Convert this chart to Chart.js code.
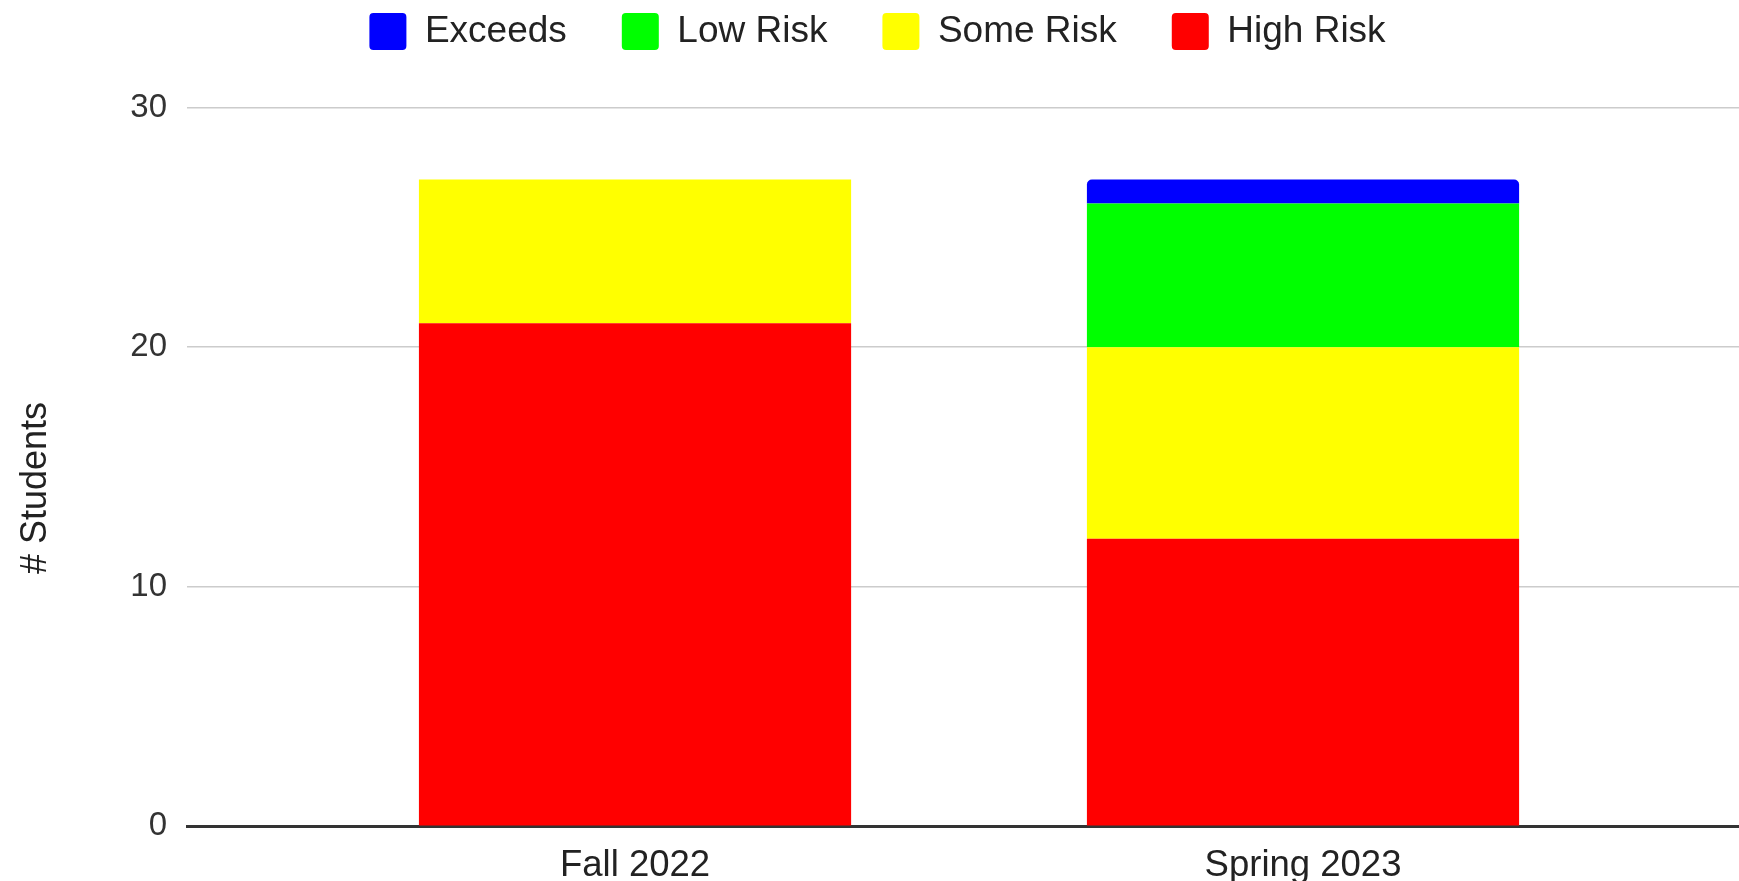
<!DOCTYPE html>
<html>
<head>
<meta charset="utf-8">
<title># Students by risk level</title>
<script src="https://cdn.jsdelivr.net/npm/chart.js@4/dist/chart.umd.min.js"></script>
<style>
  html, body { margin: 0; padding: 0; background: #ffffff; }
  #wrap { width: 1739px; height: 881px; position: relative; }
</style>
</head>
<body>
<div id="wrap"><canvas id="chart"></canvas></div>
<script>
// Terms on the horizontal axis
const categories = ['Fall 2022', 'Spring 2023'];

// Number of students in each band, per term (stacked bottom to top)
const highRisk = [21, 12];
const someRisk = [6, 8];
const lowRisk  = [0, 6];
const exceeds  = [0, 1];

// Value axis ticks
const yTickValues = [0, 10, 20, 30];

const FONT = "'Liberation Sans', Arial, sans-serif";

const toPoints = (values) => values.map((v, i) => ({ x: i, y: v }));

// Legend row: extra room below it and a small nudge to the right
const legendSpace = {
  id: 'legendSpace',
  beforeInit(chart) {
    const legend = chart.legend;
    const fit = legend.fit;
    legend.fit = function () {
      fit.call(this);
      this.height = 149.6;
    };
    const draw = legend.draw;
    legend.draw = function () {
      const ctx = this.ctx;
      ctx.save();
      ctx.translate(8, 0);
      draw.call(this);
      ctx.restore();
    };
  },
  // Axis title sits a little below the middle of the plot
  afterLayout(chart) {
    const y = chart.scales.y;
    if (y && !y._titleShifted) {
      const drawTitle = y.drawTitle;
      y.drawTitle = function () {
        const ctx = this.ctx;
        ctx.save();
        ctx.translate(0, 21);
        drawTitle.call(this);
        ctx.restore();
      };
      y._titleShifted = true;
    }
  }
};

new Chart(document.getElementById('chart'), {
  type: 'bar',
  data: {
    datasets: [
      { label: 'High Risk', data: toPoints(highRisk), backgroundColor: '#ff0000' },
      { label: 'Some Risk', data: toPoints(someRisk), backgroundColor: '#ffff00' },
      { label: 'Low Risk',  data: toPoints(lowRisk),  backgroundColor: '#00ff00' },
      { label: 'Exceeds',   data: toPoints(exceeds),  backgroundColor: '#0000ff',
        borderRadius: { topLeft: 5, topRight: 5, bottomLeft: 0, bottomRight: 0 } }
    ]
  },
  plugins: [legendSpace],
  options: {
    responsive: true,
    maintainAspectRatio: false,
    animation: false,
    barPercentage: 1,
    categoryPercentage: 0.647,
    layout: { padding: { top: -42, left: 0, right: 0, bottom: 0 } },
    plugins: {
      tooltip: { enabled: false },
      legend: {
        position: 'top',
        reverse: true,
        labels: {
          boxWidth: 37,
          boxHeight: 37,
          useBorderRadius: true,
          borderRadius: 4,
          padding: 55,
          color: '#222222',
          font: { family: FONT, size: 37 }
        }
      }
    },
    scales: {
      x: {
        type: 'linear',
        stacked: true,
        offset: false,
        min: -0.6707,
        max: 1.6527,
        afterBuildTicks: (scale) => {
          scale.ticks = categories.map((_, i) => ({ value: i }));
        },
        afterFit: (scale) => { scale.height = 54.7; },
        grid: { display: false, drawTicks: false },
        border: { display: true, color: '#333333', width: 3 },
        ticks: {
          padding: 18,
          color: '#222222',
          font: { family: FONT, size: 36.5 },
          callback: (value) => categories[value] ?? ''
        }
      },
      y: {
        stacked: true,
        min: 0,
        max: 30,
        afterBuildTicks: (scale) => {
          scale.ticks = yTickValues.map((v) => ({ value: v }));
        },
        afterFit: (scale) => { scale.width = 187; },
        grid: { color: '#cccccc', lineWidth: 1.5, drawTicks: false },
        border: { display: false },
        ticks: {
          padding: 20,
          color: '#333333',
          font: { family: FONT, size: 33 }
        },
        title: {
          display: true,
          text: '# Students',
          color: '#222222',
          font: { family: FONT, size: 36 },
          padding: { top: 14, bottom: 0 }
        }
      }
    }
  }
});
</script>
</body>
</html>
